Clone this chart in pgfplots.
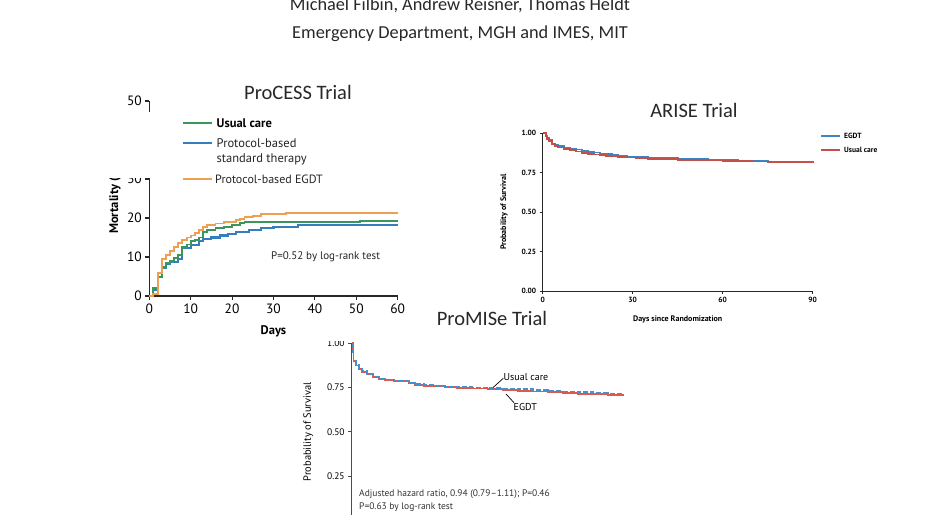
\documentclass[border=0pt]{standalone}
\usepackage{pgfplots}
\pgfplotsset{compat=1.18}
\usepackage{fontspec}
\setmainfont{Carlito}
\newfontfamily\nejm{PT Sans}
\definecolor{procgreen}{RGB}{60,150,92}
\definecolor{procblue}{RGB}{52,126,190}
\definecolor{procorange}{RGB}{238,160,82}
\definecolor{ariseblue}{RGB}{62,132,192}
\definecolor{arisered}{RGB}{196,78,72}
\definecolor{promred}{RGB}{222,88,78}
\definecolor{promblue}{RGB}{66,146,208}
\definecolor{axgray}{RGB}{40,40,40}
\definecolor{hdr}{RGB}{40,40,40}
\pgfplotsset{
  km/.style={scale only axis, anchor=south west, axis x line=bottom, axis y line=left,
    axis line style={-, axgray}, tick align=outside, tick style={axgray},
    /pgf/number format/assume math mode=true, clip=false},
}
\begin{document}
\begin{tikzpicture}[x=1pt,y=1pt]
\useasboundingbox (0,0) rectangle (950,514);
\clip (0,0) rectangle (950,514);
\fill[white] (0,0) rectangle (950,514);
% header
\node[anchor=base, font=\fontsize{18.3}{20}\selectfont, text=hdr] at (460,503) {Michael Filbin, Andrew Reisner, Thomas Heldt};
\node[anchor=base, font=\fontsize{18.3}{20}\selectfont, text=hdr] at (460,475.5) {Emergency Department, MGH and IMES, MIT};

% ---------------- ProCESS ----------------
\begin{axis}[km, at={(149.3pt,218pt)}, width=248.4pt, height=195pt,
  xmin=0, xmax=60, ymin=0, ymax=50,
  xtick={0,10,...,60}, ytick={0,10,...,50},
  axis line style={line width=1.3pt}, major tick length=4pt, tick style={line width=1.1pt},
  ticklabel style={font=\nejm\fontsize{13.5}{14}\selectfont},
  xlabel={Days}, ylabel={Mortality (\%)},
  every axis x label/.style={at={(axis description cs:0.5,-0.179)}, anchor=center, font=\nejm\bfseries\fontsize{12.5}{13}\selectfont},
  every axis y label/.style={at={(axis description cs:-0.138,0.5)}, rotate=90, anchor=center, font=\nejm\bfseries\fontsize{12.5}{13}\selectfont}]
\addplot[const plot, color=procblue, line width=2.1pt] coordinates {
(0,0) (1,1.5) (2,4.8) (3,7.3) (4,8.2) (5,8.8) (7,9.5) (8,12.2) (10,13) (12,14) (13,14.5)
(15,15) (17,15.5) (19,16) (21,16.5) (24,17) (27,17.5) (30,17.8) (36,18.2) (60,18.2)};
\addplot[const plot, color=procgreen, line width=1.9pt] coordinates {
(0,0) (1,2) (2,5) (3,7.5) (4,8.5) (5,9) (6,9.7) (7,10.5) (8,12.5) (9,13.2) (10,14) (11,14.4)
(12,15) (13,16.4) (14,17) (16,17.4) (18,17.8) (20,18.2) (22,18.7) (23,19) (50,19) (51,19.2) (60,19.2)};
\addplot[const plot, color=procorange, line width=1.9pt] coordinates {
(0,0) (1,0.5) (2,6) (3,9.5) (4,10.5) (5,11.5) (6,12.5) (7,13.5) (8,14.3) (9,15) (10,15.5)
(11,16.2) (12,17) (13,17.8) (14,18.2) (16,18.6) (18,19) (21,19.4) (22,19.8) (23,20.2)
(25,20.6) (27,21) (33,21.2) (60,21.2)};
\end{axis}
% white box covering part of the axis (as in the reference)
\fill[white] (100,336.2) rectangle (420,401.7);
\node[font=\fontsize{20.5}{22}\selectfont, text=hdr] at (298,422) {ProCESS Trial};
\draw[color=procgreen, line width=2.5pt] (183,391) -- (212,391);
\node[anchor=west, font=\nejm\bfseries\fontsize{12.5}{13}\selectfont, inner sep=0pt] at (216.5,391) {Usual care};
\draw[color=procblue, line width=2.5pt] (183,371) -- (212,371);
\node[anchor=west, font=\nejm\fontsize{12.5}{13}\selectfont, inner sep=0pt, text=black!85] at (216.5,371) {Protocol-based};
\node[anchor=west, font=\nejm\fontsize{12.5}{13}\selectfont, inner sep=0pt, text=black!85] at (216.5,355) {standard therapy};
\draw[color=procorange, line width=1.3pt] (183,335) -- (212,335);
\node[anchor=west, font=\nejm\fontsize{12}{13}\selectfont, inner sep=0pt, text=black!85] at (215,335) {Protocol-based EGDT};
\node[anchor=west, font=\nejm\fontsize{11}{12}\selectfont, inner sep=0pt, text=black!85] at (271,257) {P=0.52 by log-rank test};

% ---------------- ARISE ----------------
\begin{axis}[km, at={(542.7pt,223pt)}, width=270pt, height=157.7pt,
  xmin=0, xmax=90, ymin=0, ymax=1,
  xtick={0,30,60,90}, ytick={0,0.25,0.5,0.75,1},
  y tick label style={/pgf/number format/fixed, /pgf/number format/fixed zerofill, /pgf/number format/precision=2},
  ticklabel style={font=\nejm\bfseries\fontsize{7.5}{8}\selectfont},
  axis line style={line width=0.9pt}, major tick length=3pt, tick style={line width=0.8pt},
  xlabel={Days since Randomization}, ylabel={Probability of Survival},
  every axis x label/.style={at={(axis description cs:0.5,-0.178)}, anchor=center, font=\nejm\bfseries\fontsize{8}{9}\selectfont},
  every axis y label/.style={at={(axis description cs:-0.143,0.5)}, rotate=90, anchor=center, font=\nejm\bfseries\fontsize{8}{9}\selectfont}]
\addplot[const plot, color=ariseblue, line width=1.9pt] coordinates {
(0,1) (1,0.985) (1.5,0.97) (2,0.955) (3,0.935) (4,0.925) (5,0.918) (7,0.91) (9,0.903) (11,0.897)
(13,0.89) (15,0.884) (17,0.878) (19,0.872) (21,0.866) (23,0.861) (25,0.857) (28,0.853) (31,0.849)
(35,0.845) (40,0.841) (45,0.838) (50,0.835) (55,0.832) (60,0.829) (65,0.826) (70,0.823) (75,0.821)
(80,0.819) (85,0.817) (90,0.815)};
\addplot[const plot, color=arisered, line width=1.7pt] coordinates {
(0,1) (1,0.98) (1.5,0.965) (2,0.95) (3,0.93) (4,0.918) (5,0.91) (7,0.9) (9,0.892) (11,0.884)
(13,0.876) (15,0.87) (17,0.865) (19,0.861) (21,0.857) (23,0.853) (25,0.85) (28,0.846) (31,0.842)
(35,0.838) (40,0.835) (45,0.832) (50,0.83) (55,0.828) (60,0.826) (65,0.824) (70,0.822) (75,0.819)
(80,0.817) (85,0.815) (90,0.812)};
\end{axis}
\node[font=\fontsize{20.5}{22}\selectfont, text=hdr] at (694,404) {ARISE Trial};
\draw[color=ariseblue, line width=2pt] (821,378) -- (840,378);
\node[anchor=west, font=\nejm\bfseries\fontsize{7.5}{8}\selectfont, inner sep=0pt] at (844,378) {EGDT};
\draw[color=arisered, line width=2pt] (821,364) -- (840,364);
\node[anchor=west, font=\nejm\bfseries\fontsize{7.5}{8}\selectfont, inner sep=0pt] at (844,364) {Usual care};

% ---------------- ProMISe ----------------
\begin{axis}[km, at={(351.7pt,-6.5pt)}, width=271.6pt, height=177.2pt,
  xmin=0, xmax=90, ymin=0, ymax=1,
  xtick=\empty, ytick={0,0.25,0.5,0.75,1},
  y tick label style={/pgf/number format/fixed, /pgf/number format/fixed zerofill, /pgf/number format/precision=2},
  ticklabel style={font=\nejm\fontsize{9.5}{10}\selectfont},
  axis line style={line width=1.3pt, black!70}, major tick length=3.5pt, tick style={line width=1pt, black!70},
  ylabel={Probability of Survival},
  every axis y label/.style={at={(axis description cs:-0.16,0.5)}, rotate=90, anchor=center, font=\nejm\fontsize{10.5}{11}\selectfont}]
\addplot[const plot, color=promred, line width=1.8pt] coordinates {
(0,1) (0.3,0.95) (0.6,0.9) (1.5,0.875) (2.5,0.855) (3.5,0.84) (5,0.825) (7,0.81) (9,0.8) (11,0.793)
(14,0.789) (17,0.785) (19,0.775) (21,0.766) (24,0.761) (27,0.757) (31,0.753) (35,0.749) (40,0.745)
(45,0.741) (50,0.737) (55,0.733) (60,0.728) (65,0.724) (70,0.72) (75,0.716) (80,0.712) (85,0.709) (90,0.705)};
\addplot[const plot, color=promblue, line width=1.5pt, dash pattern=on 5pt off 2pt] coordinates {
(0,1) (0.3,0.95) (0.6,0.9) (1.5,0.877) (2.5,0.858) (3.5,0.843) (5,0.828) (7,0.813) (9,0.802) (11,0.795)
(14,0.79) (17,0.787) (19,0.778) (21,0.769) (24,0.764) (27,0.76) (31,0.757) (35,0.754) (40,0.751)
(45,0.748) (50,0.745) (55,0.741) (60,0.737) (65,0.733) (70,0.729) (75,0.725) (80,0.721) (85,0.717) (90,0.713)};
\end{axis}
\fill[white] (312,172.5) rectangle (350.5,190);
\node[font=\fontsize{20.5}{22}\selectfont, text=hdr] at (492,196) {ProMISe Trial};
\draw[black, line width=0.7pt] (493.3,126.7) -- (503.3,135.7);
\node[anchor=west, font=\nejm\fontsize{10}{11}\selectfont, inner sep=0pt] at (503.5,137.3) {Usual care};
\draw[black, line width=0.7pt] (506,120) -- (514,111.3);
\node[anchor=west, font=\nejm\fontsize{10}{11}\selectfont, inner sep=0pt] at (513.5,107) {EGDT};
\node[anchor=west, font=\nejm\fontsize{9.5}{10}\selectfont, inner sep=0pt, text=black!80] at (359,19.7) {Adjusted hazard ratio, 0.94 (0.79–1.11); P=0.46};
\node[anchor=west, font=\nejm\fontsize{9.5}{10}\selectfont, inner sep=0pt, text=black!80] at (359,7.3) {P=0.63 by log-rank test};
\end{tikzpicture}
\end{document}
